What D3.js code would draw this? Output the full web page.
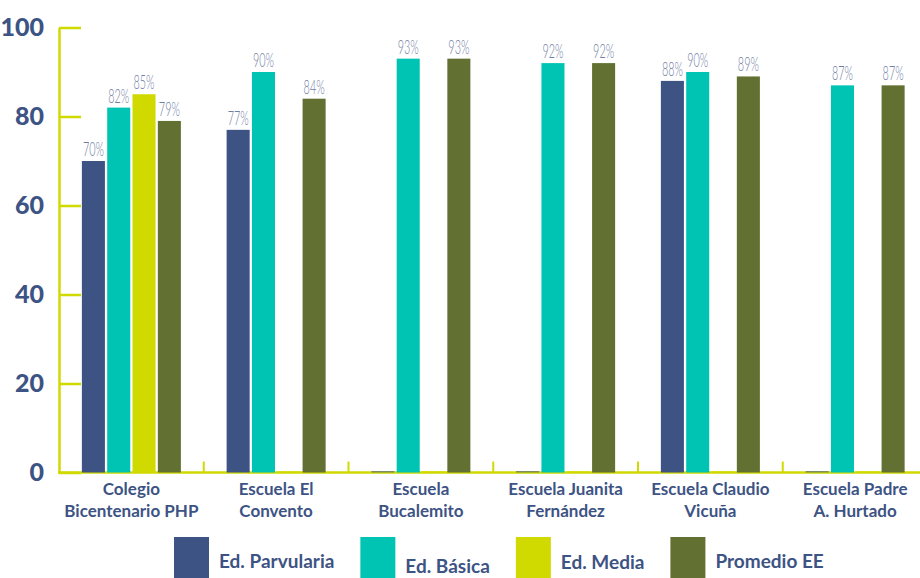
<!DOCTYPE html>
<html>
<head>
<meta charset="utf-8">
<script src="https://cdn.jsdelivr.net/npm/d3@7"></script>
<style>
    body { margin: 0; background: #ffffff; }
    svg { display: block; }
</style>
</head>
<body>
<div id="chart"></div>
<script>
(function () {

    'use strict';

    // data
    var categories = [
        ['Colegio', 'Bicentenario PHP'],
        ['Escuela El', 'Convento'],
        ['Escuela', 'Bucalemito'],
        ['Escuela Juanita', 'Fernández'],
        ['Escuela Claudio', 'Vicuña'],
        ['Escuela Padre', 'A. Hurtado']
    ];
    var seriesNames = ['Ed. Parvularia', 'Ed. Básica', 'Ed. Media', 'Promedio EE'];
    var parvularia = [70, 77, 0, 0, 88, 0];
    var basica = [82, 90, 93, 92, 90, 87];
    var media = [85, 0, 0, 0, 0, 0];
    var promedio = [79, 84, 93, 92, 89, 87];
    var yTicks = [0, 20, 40, 60, 80, 100];

    var seriesValues = [parvularia, basica, media, promedio];
    var colors = ['#3d5384', '#00c4b3', '#d0da00', '#627031'];

    var width = 920;
    var height = 578;
    var axisColor = '#d0da00';
    var textColor = '#3d5384';

    var rows = categories.map(function (cat, i) {
        return {
            key: i,
            values: seriesNames.map(function (name, s) {
                return {series: name, index: s, value: seriesValues[s][i]};
            })
        };
    });

    var svg = d3.select('#chart')
        .append('svg')
        .attr('width', width)
        .attr('height', height);

    var x0 = d3.scaleBand()
        .domain(d3.range(categories.length))
        .range([59, 927.5])
        .paddingInner(0.316)
        .paddingOuter(0.158);

    var x1 = d3.scaleBand()
        .domain(seriesNames)
        .range([0, x0.bandwidth()])
        .paddingInner(0.09);

    var y = d3.scaleLinear()
        .domain([0, 100])
        .range([472.5, 27.5]);

    // y axis, ticks pointing into the plot
    var yAxis = svg.append('g')
        .attr('transform', 'translate(59,0)')
        .call(d3.axisLeft(y).tickValues(yTicks).tickSizeInner(-22).tickSizeOuter(0).tickPadding(15));

    yAxis.select('.domain').attr('stroke', axisColor).attr('stroke-width', 2.5);
    yAxis.selectAll('.tick line').attr('stroke', axisColor).attr('stroke-width', 2.5);
    yAxis.selectAll('.tick text')
        .attr('fill', textColor)
        .style('font-family', 'Lato, sans-serif')
        .style('font-weight', 900)
        .style('font-size', '25px');

    // base line + group separators
    svg.append('line')
        .attr('x1', 58).attr('x2', width)
        .attr('y1', y(0)).attr('y2', y(0))
        .attr('stroke', axisColor)
        .attr('stroke-width', 2.5);

    svg.selectAll('.sep')
        .data(d3.range(1, categories.length))
        .enter()
        .append('line')
        .attr('class', 'sep')
        .attr('x1', function (d) { return x0(d) - x0.step() * x0.paddingInner() / 2; })
        .attr('x2', function (d) { return x0(d) - x0.step() * x0.paddingInner() / 2; })
        .attr('y1', y(0) - 11)
        .attr('y2', y(0))
        .attr('stroke', axisColor)
        .attr('stroke-width', 2);

    // bars
    var groups = svg.selectAll('.group')
        .data(rows)
        .enter()
        .append('g')
        .attr('class', 'group')
        .attr('transform', function (d) { return 'translate(' + x0(d.key) + ',0)'; });

    groups.selectAll('rect')
        .data(function (d) { return d.values; })
        .enter()
        .append('rect')
        .attr('x', function (d) { return x1(d.series); })
        .attr('width', x1.bandwidth())
        .attr('y', function (d) { return d.value ? y(d.value) : y(0) - 1.5; })
        .attr('height', function (d) { return d.value ? y(0) - y(d.value) : 1.5; })
        .attr('fill', function (d) { return colors[d.index]; })
        .attr('fill-opacity', function (d) { return d.value ? 1 : 0.6; });

    // value labels
    groups.selectAll('.val')
        .data(function (d) { return d.values.filter(function (v) { return v.value > 0; }); })
        .enter()
        .append('text')
        .attr('class', 'val')
        .attr('x', function (d) { return x1(d.series) + x1.bandwidth() / 2; })
        .attr('y', function (d) { return y(d.value) - 5; })
        .attr('text-anchor', 'middle')
        .attr('textLength', 21)
        .attr('lengthAdjust', 'spacingAndGlyphs')
        .attr('fill', '#6f7ea3')
        .style('font-family', 'Lato, sans-serif')
        .style('font-weight', 300)
        .style('font-size', '20px')
        .text(function (d) { return d.value + '%'; });

    // category labels
    var catLabels = svg.selectAll('.cat')
        .data(categories)
        .enter()
        .append('text')
        .attr('class', 'cat')
        .attr('text-anchor', 'middle')
        .attr('fill', textColor)
        .style('font-family', 'Lato, sans-serif')
        .style('font-weight', 700)
        .style('font-size', '17px');

    catLabels.selectAll('tspan')
        .data(function (d, i) { return d.map(function (line) { return {line: line, i: i}; }); })
        .enter()
        .append('tspan')
        .attr('x', function (d) { return x0(d.i) + x0.bandwidth() / 2; })
        .attr('y', function (d, j) { return 495 + j * 22; })
        .text(function (d) { return d.line; });

    // legend
    var legendOffsets = [0, 5, 1, 0];
    var legendX = 174;
    seriesNames.forEach(function (name, i) {
        var item = svg.append('g').attr('class', 'legend-item');
        item.append('rect')
            .attr('x', legendX)
            .attr('y', 537)
            .attr('width', 35)
            .attr('height', 44)
            .attr('fill', colors[i]);
        var label = item.append('text')
            .attr('x', legendX + 45)
            .attr('y', 568 + legendOffsets[i])
            .attr('fill', textColor)
            .style('font-family', 'Lato, sans-serif')
            .style('font-weight', 700)
            .style('font-size', '19px')
            .text(name);
        legendX = legendX + 45 + label.node().getComputedTextLength() + 26;
    });

}());
</script>
</body>
</html>
